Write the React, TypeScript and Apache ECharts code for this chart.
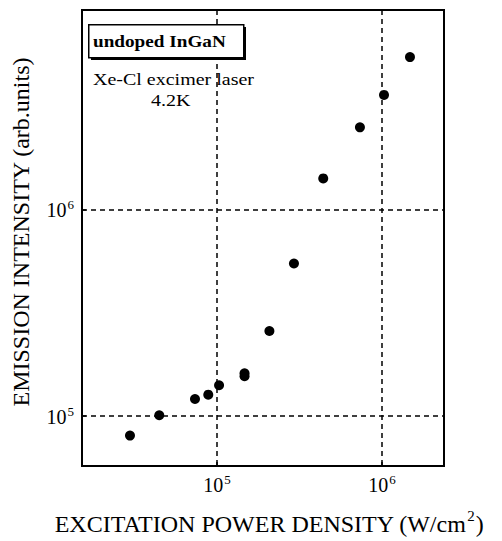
import React, { useEffect, useRef } from "react";
import * as echarts from "echarts";

const powerDensity: number[] = [2.97e4, 4.47e4, 7.36e4, 8.86e4, 1.03e5, 1.47e5, 1.47e5, 2.08e5, 2.93e5, 4.41e5, 7.36e5, 1.03e6, 1.48e6];
const emission: number[] = [8.05e4, 1.01e5, 1.21e5, 1.27e5, 1.41e5, 1.56e5, 1.61e5, 2.58e5, 5.47e5, 1.41e6, 2.49e6, 3.57e6, 5.44e6];

const xRange: [number, number] = [1.52e4, 2.38e6];
const yRange: [number, number] = [5.74e4, 9.19e6];

const sampleName = "undoped InGaN";
const noteLine1 = "Xe-Cl excimer laser";
const noteLine2 = "4.2K";
const xTitle = "EXCITATION POWER DENSITY (W/cm";
const yTitle = "EMISSION INTENSITY (arb.units)";

const FONT = "Liberation Serif";

function powLabel(v: number): string {
  const e = Math.log10(v);
  const r = Math.round(e);
  if (Math.abs(e - r) < 1e-6) return `{b|10}{s|${r}}`;
  return "";
}

const labelRich = {
  b: { fontSize: 20, fontFamily: FONT, color: "#000", lineHeight: 22, verticalAlign: "bottom" },
  s: { fontSize: 13, fontFamily: FONT, color: "#000", lineHeight: 22, verticalAlign: "top", padding: [0, 0, 8, 1] },
};

export default function App() {
  const ref = useRef<HTMLDivElement>(null);
  useEffect(() => {
    if (!ref.current) return;
    const chart = echarts.init(ref.current, null, { renderer: "svg" });
    const data = powerDensity.map((x, i) => [x, emission[i]]);
    chart.setOption({
      animation: false,
      backgroundColor: "#fff",
      grid: { left: 82, top: 10, width: 362, height: 460, show: true, borderColor: "#000", borderWidth: 2, backgroundColor: "transparent" },
      xAxis: {
        type: "log",
        logBase: 10,
        min: xRange[0],
        max: xRange[1],
        name: `{t|${xTitle}}{s|2}{t|)}`,
        nameLocation: "middle",
        nameGap: 42,
        nameTextStyle: {
          padding: [0, 0, 0, 12],
          rich: {
            t: { fontSize: 24, fontFamily: FONT, color: "#000", lineHeight: 28, verticalAlign: "bottom" },
            s: { fontSize: 15, fontFamily: FONT, color: "#000", lineHeight: 28, verticalAlign: "top", padding: [0, 1, 9, 1] },
          },
        },
        axisLine: { show: true, lineStyle: { color: "#000", width: 2 } },
        axisTick: { show: true, inside: true, length: 4, lineStyle: { color: "#000", width: 1.5 } },
        minorTick: { show: false },
        splitLine: { show: true, lineStyle: { color: "#000", width: 1.5, type: [5, 4] } },
        axisLabel: { formatter: powLabel, rich: labelRich, margin: 7, showMinLabel: false, showMaxLabel: false },
      },
      yAxis: {
        type: "log",
        logBase: 10,
        min: yRange[0],
        max: yRange[1],
        name: yTitle,
        nameLocation: "middle",
        nameRotate: 90,
        nameGap: 49,
        nameTextStyle: { fontSize: 24, fontFamily: FONT, color: "#000", padding: [0, 0, 0, 12] },
        axisLine: { show: true, lineStyle: { color: "#000", width: 2 } },
        axisTick: { show: true, inside: true, length: 4, lineStyle: { color: "#000", width: 1.5 } },
        splitLine: { show: true, lineStyle: { color: "#000", width: 1.5, type: [5, 4] } },
        axisLabel: { formatter: powLabel, rich: labelRich, margin: 8, showMinLabel: false, showMaxLabel: false },
      },
      graphic: [
        { type: "rect", left: 91, top: 27, shape: { width: 155, height: 33 }, style: { fill: "#000" }, z: 100 },
        { type: "rect", left: 88, top: 24, shape: { width: 155, height: 33 }, style: { fill: "#fff", stroke: "#000", lineWidth: 1.5 }, z: 101 },
        { type: "text", x: 93, y: 41, scaleX: 1.13, style: { text: sampleName, font: `bold 17px "${FONT}"`, fill: "#000", verticalAlign: "middle" }, z: 102 },
        { type: "text", x: 93, y: 80, scaleX: 1.25, style: { text: noteLine1, font: `16px "${FONT}"`, fill: "#000", verticalAlign: "middle" }, z: 102 },
        { type: "text", x: 151, y: 101, scaleX: 1.25, style: { text: noteLine2, font: `16px "${FONT}"`, fill: "#000", verticalAlign: "middle" }, z: 102 },
      ],
      series: [
        {
          type: "scatter",
          data,
          symbol: "circle",
          symbolSize: 10,
          itemStyle: { color: "#000", opacity: 1 },
          z: 5,
        },
      ],
    });
    return () => chart.dispose();
  }, []);
  return <div ref={ref} style={{ position: "fixed", left: 0, top: 0, width: 502, height: 541 }} />;
}
